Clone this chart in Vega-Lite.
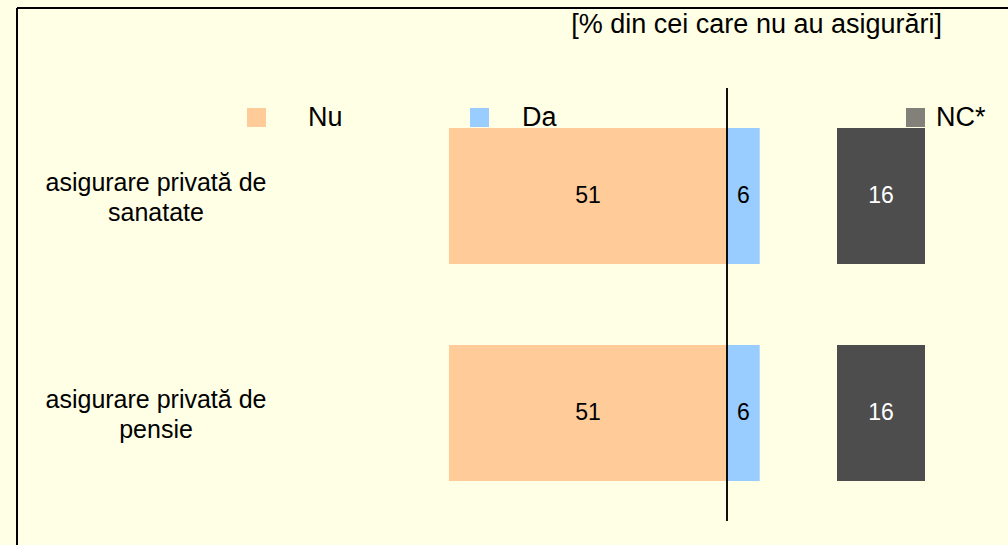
{
  "$schema": "https://vega.github.io/schema/vega-lite/v6.json",
  "autosize": {"type": "none"},
  "width": 991,
  "height": 537,
  "padding": {"left": 17, "top": 8, "right": 0, "bottom": 0},
  "background": "#FFFFE6",
  "config": {
    "font": "Liberation Sans",
    "view": {"stroke": "black", "strokeWidth": 2, "strokeDash": [991, 1528, 537, 0]}
  },
  "title": {
    "text": "[% din cei care nu au asigurări]",
    "anchor": "end",
    "frame": "group",
    "orient": "top",
    "offset": 0,
    "baseline": "middle",
    "dx": -66,
    "dy": 44,
    "fontSize": 27,
    "fontWeight": "normal",
    "font": "Liberation Sans",
    "color": "black"
  },
  "data": {
    "values": [
      {"cat": "asigurare privată de|sanatate", "Nu": 51, "Da": 6, "NC": 16},
      {"cat": "asigurare privată de|pensie", "Nu": 51, "Da": 6, "NC": 16}
    ]
  },
  "resolve": {
    "scale": {"x": "independent", "y": "independent", "color": "independent"},
    "axis": {"x": "independent", "y": "independent"},
    "legend": {"color": "independent"}
  },
  "layer": [
    {
      "mark": {"type": "bar"},
      "encoding": {
        "y": {
          "field": "cat", "type": "nominal", "sort": null,
          "scale": {"range": [80, 513], "paddingInner": 0.373, "paddingOuter": 0.184},
          "axis": {
            "title": null, "orient": "left", "domain": false, "ticks": false, "tickSize": 0,
            "labelPadding": -138.5, "labelAlign": "center", "labelBaseline": "middle",
            "labelExpr": "split(datum.label, '|')", "labelLineHeight": 30, "labelOffset": -13,
            "labelFontSize": 25, "labelColor": "black", "labelLimit": 400, "labelFont": "Liberation Sans"
          }
        },
        "x": {"field": "Nu", "type": "quantitative", "scale": {"domain": [-51.55, 130.25], "reverse": true, "nice": false, "zero": false}, "axis": null},
        "color": {
          "datum": "Nu",
          "scale": {"range": ["#FFCC99"]},
          "legend": {"orient": "none", "legendX": 226, "legendY": 96, "title": null, "symbolType": "square", "symbolSize": 361, "symbolStrokeWidth": 0, "labelFontSize": 27, "labelOffset": 38, "padding": 0, "labelColor": "black", "labelFont": "Liberation Sans"}
        }
      }
    },
    {
      "mark": {"type": "text", "fontSize": 23, "color": "black", "baseline": "middle"},
      "encoding": {
        "y": {"field": "cat", "type": "nominal", "sort": null, "scale": {"range": [80, 513], "paddingInner": 0.373, "paddingOuter": 0.184}, "axis": null},
        "x": {"field": "Nu", "type": "quantitative", "scale": {"domain": [-103.1, 260.5], "reverse": true, "nice": false, "zero": false}, "axis": null},
        "text": {"field": "Nu", "type": "quantitative"}
      }
    },
    {
      "mark": {"type": "bar"},
      "encoding": {
        "y": {"field": "cat", "type": "nominal", "sort": null, "scale": {"range": [80, 513], "paddingInner": 0.373, "paddingOuter": 0.184}, "axis": null},
        "x": {"field": "Da", "type": "quantitative", "scale": {"domain": [-130.25, 51.55], "nice": false, "zero": false}, "axis": null},
        "color": {
          "datum": "Da",
          "scale": {"range": ["#99CCFF"]},
          "legend": {"orient": "none", "legendX": 449, "legendY": 96, "title": null, "symbolType": "square", "symbolSize": 361, "symbolStrokeWidth": 0, "labelFontSize": 27, "labelOffset": 29, "padding": 0, "labelColor": "black", "labelFont": "Liberation Sans"}
        }
      }
    },
    {
      "mark": {"type": "text", "fontSize": 23, "color": "black", "baseline": "middle"},
      "encoding": {
        "y": {"field": "cat", "type": "nominal", "sort": null, "scale": {"range": [80, 513], "paddingInner": 0.373, "paddingOuter": 0.184}, "axis": null},
        "x": {"field": "Da", "type": "quantitative", "scale": {"domain": [-260.5, 103.1], "nice": false, "zero": false}, "axis": null},
        "text": {"field": "Da", "type": "quantitative"}
      }
    },
    {
      "mark": {"type": "bar"},
      "encoding": {
        "y": {"field": "cat", "type": "nominal", "sort": null, "scale": {"range": [80, 513], "paddingInner": 0.373, "paddingOuter": 0.184}, "axis": null},
        "x": {"field": "NC", "type": "quantitative", "scale": {"domain": [-149.09, 31.09], "nice": false, "zero": false}, "axis": null},
        "color": {
          "datum": "NC*",
          "scale": {"range": ["#4D4D4D"]},
          "legend": {"orient": "none", "legendX": 885, "legendY": 96, "title": null, "symbolType": "square", "symbolSize": 361, "symbolStrokeWidth": 0, "symbolOpacity": 0.71, "labelFontSize": 27, "labelOffset": 7, "padding": 0, "labelColor": "black", "labelFont": "Liberation Sans"}
        }
      }
    },
    {
      "mark": {"type": "text", "fontSize": 23, "color": "white", "baseline": "middle"},
      "encoding": {
        "y": {"field": "cat", "type": "nominal", "sort": null, "scale": {"range": [80, 513], "paddingInner": 0.373, "paddingOuter": 0.184}, "axis": null},
        "x": {"field": "NC", "type": "quantitative", "scale": {"domain": [-298.18, 62.18], "nice": false, "zero": false}, "axis": null},
        "text": {"field": "NC", "type": "quantitative"}
      }
    },
    {
      "mark": {"type": "rule", "color": "black", "strokeWidth": 1.5},
      "encoding": {
        "x": {"datum": 0, "type": "quantitative", "scale": {"domain": [-130.25, 51.55], "nice": false, "zero": false}, "axis": null},
        "y": {"datum": 0, "type": "quantitative", "scale": {"domain": [0, 1], "range": [80, 513], "nice": false}, "axis": null},
        "y2": {"datum": 1}
      }
    }
  ]
}
